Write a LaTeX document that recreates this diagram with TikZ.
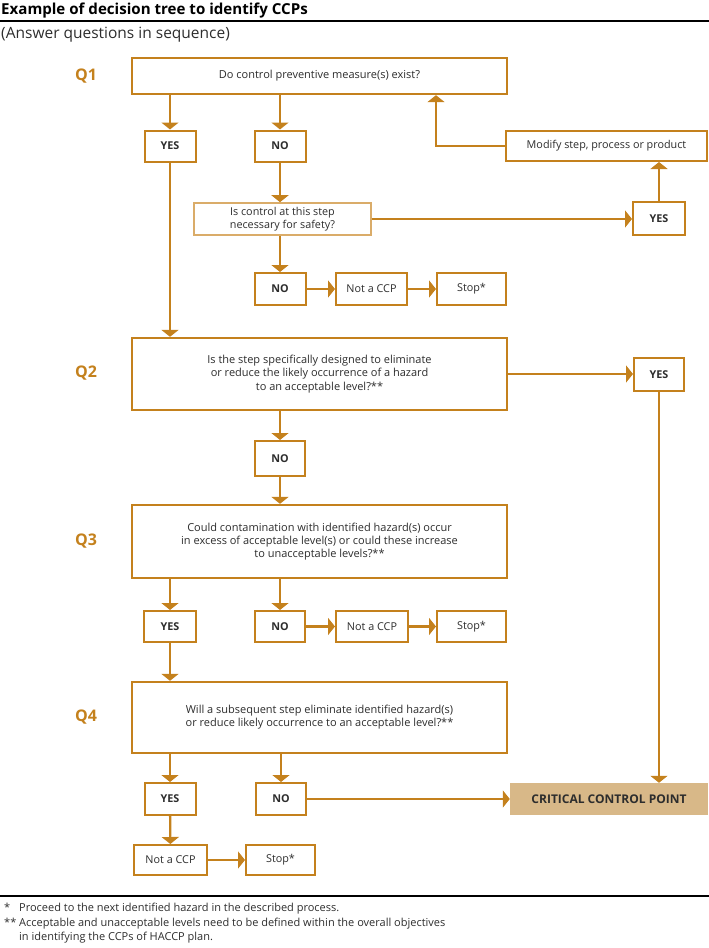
\documentclass[tikz,border=0pt]{standalone}
\usepackage{fontspec}
\setmainfont{Open Sans}
\usetikzlibrary{arrows.meta}
\definecolor{brand}{RGB}{196,129,29}
\definecolor{brandlight}{RGB}{218,172,105}
\definecolor{ccpfill}{RGB}{216,184,136}
\definecolor{txt}{RGB}{45,45,45}
\begin{document}
\begin{tikzpicture}[x=1pt,y=-1pt,
  conn/.style={draw=brand,line width=2.3pt,-{Triangle[width=17pt,length=7pt]}},
  qbox/.style={draw=brand,line width=2.3pt,fill=white,minimum width=375pt,align=center,text=txt,font=\fontsize{11}{13.2}\selectfont,inner sep=0pt},
  ansbox/.style={draw=brand,line width=2pt,fill=white,minimum width=51pt,minimum height=31pt,inner sep=0pt,text=txt,font=\bfseries\fontsize{10.8}{12}\selectfont},
  smallbox/.style={draw=brand,line width=2pt,fill=white,minimum height=31pt,inner sep=0pt,text=txt,font=\fontsize{10.8}{12}\selectfont},
  qlabel/.style={text=brand,font=\bfseries\fontsize{16}{16}\selectfont},
  rulestyle/.style={line width=2pt,draw=black},
  foot/.style={anchor=base west,inner sep=0pt,text=txt,font=\fontsize{11}{12}\selectfont},
]
\useasboundingbox (0,0) rectangle (709,948);

% header
\node[anchor=base west,inner sep=0pt,font=\bfseries\fontsize{15.1}{17}\selectfont] (title) at (1,14) {Example of decision tree to identify CCPs};
\draw[rulestyle] (0,21) -- (709,21);
\node[anchor=base west,inner sep=0pt,text=txt,font=\fontsize{15.5}{17}\selectfont] (sub) at (1,38) {(Answer questions in sequence)};

% question labels
\node[qlabel] (l1) at (86,76) {Q1};
\node[qlabel] (l2) at (86,373) {Q2};
\node[qlabel] (l3) at (86,541) {Q3};
\node[qlabel] (l4) at (86,717) {Q4};

% Q1
\node[qbox,minimum height=36pt] (q1) at (319.5,76) {Do control preventive measure(s) exist?};
\node[ansbox] (q1yes) at (170,146) {YES};
\node[ansbox] (q1no) at (280,146) {NO};
\node[smallbox,draw=brandlight,line width=1.6pt,minimum width=177pt,minimum height=32pt,align=center,font=\fontsize{10.8}{12.5}\selectfont] (ctrl) at (282.5,219) {Is control at this step\\necessary for safety?};
\node[smallbox,minimum width=201pt,minimum height=30pt] (modify) at (606.5,146) {Modify step, process or product};
\node[ansbox,minimum width=52pt,minimum height=33pt] (yes1r) at (659,218.5) {YES};
\node[ansbox,minimum height=32pt] (no1b) at (280,289) {NO};
\node[smallbox,minimum width=71pt,minimum height=32pt] (ncp1) at (371.5,289) {Not a CCP};
\node[smallbox,minimum width=69pt,minimum height=32pt] (stop1) at (471.5,289) {Stop*};

% Q2
\node[qbox,minimum height=72pt] (q2) at (319.5,374) {Is the step specifically designed to eliminate\\or reduce the likely occurrence of a hazard\\to an acceptable level?**};
\node[ansbox,minimum width=50pt,minimum height=33pt] (q2yes) at (659,374.5) {YES};
\node[ansbox,minimum width=50pt,minimum height=35pt] (q2no) at (280,458.5) {NO};

% Q3
\node[qbox,minimum height=73pt] (q3) at (319.5,541.5) {Could contamination with identified hazard(s) occur\\in excess of acceptable level(s) or could these increase\\to unacceptable levels?**};
\node[ansbox,minimum width=52pt] (q3yes) at (170,626.5) {YES};
\node[ansbox,minimum width=50pt] (q3no) at (280,626.5) {NO};
\node[smallbox,minimum width=72pt] (ncp3) at (372,626.5) {Not a CCP};
\node[smallbox,minimum width=69pt] (stop3) at (471.5,626.5) {Stop*};

% Q4
\node[qbox,minimum height=71pt] (q4) at (319.5,717.5) {Will a subsequent step eliminate identified hazard(s)\\or reduce likely occurrence to an acceptable level?**};
\node[ansbox,minimum height=32pt] (q4yes) at (170,799) {YES};
\node[ansbox,minimum width=50pt,minimum height=32pt] (q4no) at (281,799) {NO};
\node[smallbox,minimum width=73pt,minimum height=30pt] (ncp4) at (170.5,860) {Not a CCP};
\node[smallbox,minimum width=69pt,minimum height=30pt] (stop4) at (280.5,860) {Stop*};
\node[fill=ccpfill,minimum width=198pt,minimum height=32pt,inner sep=0pt,text=txt,font=\bfseries\fontsize{12}{13}\selectfont] (ccp) at (609,799) {CRITICAL CONTROL POINT};

% connectors
\draw[conn] (q1.south -| q1yes) -- (q1yes);
\draw[conn] (q1.south -| q1no) -- (q1no);
\draw[conn] (q1no) -- (q1no |- ctrl.north);
\draw[conn] (q1no |- ctrl.south) -- (no1b);
\draw[conn] (no1b) -- (ncp1);
\draw[conn] (ncp1) -- (stop1);
\draw[conn] (ctrl.east) -- (yes1r.west |- ctrl.east);
\draw[conn] (yes1r.north) -- (yes1r.north |- modify.south);
\draw[conn] (modify.west) -| ([xshift=116.5pt]q1.south);
\draw[conn] (q1yes) -- (q1yes |- q2.north);
\draw[conn] (q2.east) -- (q2yes.west |- q2.east);
\draw[conn] (q2yes) -- (q2yes |- ccp.north);
\draw[conn] (q2.south -| q2no) -- (q2no);
\draw[conn] (q2no) -- (q2no |- q3.north);
\draw[conn] (q3.south -| q3yes) -- (q3yes);
\draw[conn] (q3.south -| q3no) -- (q3no);
\draw[conn] (q3no) -- (ncp3);
\draw[conn] (ncp3) -- (stop3);
\draw[conn] (q3yes) -- (q3yes |- q4.north);
\draw[conn] (q4.south -| q4yes) -- (q4yes);
\draw[conn] (q4.south -| q4no) -- (q4no);
\draw[conn] (q4no) -- (ccp);
\draw[conn] (q4yes) -- (ncp4);
\draw[conn] (ncp4) -- (stop4);

% footnotes
\draw[rulestyle] (0,896) -- (709,896);
\node[foot] (s1) at (4,911.5) {*};
\node[foot] (f1) at (19,911.5) {Proceed to the next identified hazard in the described process.};
\node[foot] (s2) at (4,926) {**};
\node[foot] (f2) at (19,926) {Acceptable and unacceptable levels need to be defined within the overall objectives};
\node[foot] (f3) at (19,940.5) {in identifying the CCPs of HACCP plan.};
\end{tikzpicture}
\end{document}
